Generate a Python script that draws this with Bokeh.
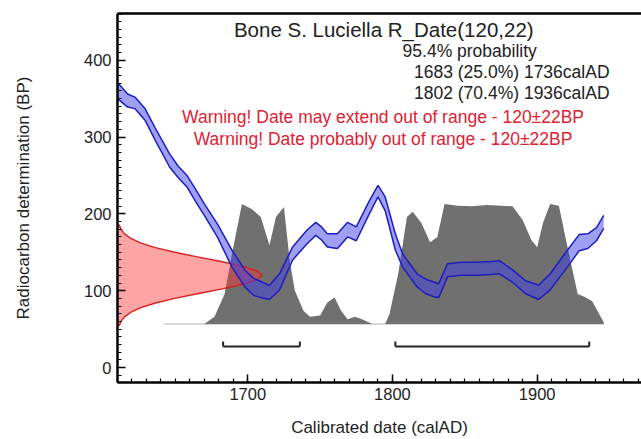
from bokeh.plotting import figure
from bokeh.models import (Range1d, LinearAxis, SingleIntervalTicker, FixedTicker, Label)
from bokeh.embed import file_html
from bokeh.resources import INLINE

# ---------------- data ----------------
# calibration curve (calAD, upper / lower BP of the 1-sigma band)
curve_year = [1610, 1617, 1622, 1629, 1636, 1646, 1652, 1658, 1664, 1670,
              1679, 1689, 1698, 1704, 1709, 1715, 1722, 1731, 1741, 1747,
              1751, 1755, 1762, 1769, 1775, 1784, 1790, 1795, 1802, 1807,
              1817, 1823, 1829, 1832, 1838, 1848, 1859, 1868, 1874, 1883,
              1892, 1901, 1909, 1921, 1929, 1935, 1941, 1946]
curve_upper = [371, 356, 352, 337, 312, 278, 262, 250, 232, 213,
               187, 153, 127, 116, 112, 107, 122, 157, 179, 189,
               183, 174, 174, 189, 183, 217, 237, 222, 174, 148,
               122, 115, 111, 109, 135, 137, 137, 138, 139, 127,
               113, 107, 122, 153, 173, 174, 182, 198]
curve_lower = [350, 339, 337, 322, 296, 261, 247, 235, 216, 198,
               170, 131, 105, 94, 91, 88.5, 101, 140, 161, 172,
               166, 157, 155, 170, 165, 200, 222, 204, 153, 131,
               105, 96, 92, 91, 118, 120, 120, 121, 122, 111,
               96, 88.5, 101, 131, 152, 155, 165, 181]

# calibrated probability distribution (relative)
cal_year = [1642, 1666, 1670, 1677, 1684, 1690, 1696, 1703, 1709, 1715,
            1719.5, 1725, 1729, 1732.5, 1738.5, 1743, 1750, 1755, 1760, 1764.5,
            1769, 1774, 1779, 1786, 1795, 1798, 1804, 1810, 1814, 1820,
            1826, 1831, 1836, 1845, 1855, 1865, 1875, 1883, 1890, 1896,
            1900, 1904, 1909, 1915, 1921, 1928, 1933, 1938, 1946]
cal_prob = [0, 0, 0.0, 0.06, 0.25, 0.64, 1.0, 0.955, 0.89, 0.655,
            0.89, 0.975, 0.53, 0.28, 0.11, 0.06, 0.07, 0.18, 0.22, 0.11,
            0.04, 0.06, 0.04, 0, 0, 0.085, 0.42, 0.89, 0.935, 0.84,
            0.68, 0.725, 1.0, 0.985, 0.98, 0.99, 0.985, 0.98, 0.865, 0.70,
            0.64, 0.84, 1.0, 0.985, 0.64, 0.25, 0.225, 0.19, 0.015]

# radiocarbon determination 120 +/- 22 BP (relative density)
c14_bp = [54, 60, 66, 72, 78, 84, 90, 96, 102, 108, 114, 120,
          126, 132, 138, 144, 150, 156, 162, 168, 174, 180, 186]
c14_dens = [0.011, 0.024, 0.049, 0.093, 0.162, 0.262, 0.395, 0.552, 0.716, 0.862, 0.963, 1.0,
            0.963, 0.862, 0.716, 0.552, 0.395, 0.262, 0.162, 0.093, 0.049, 0.024, 0.011]

# 95.4% ranges
range_from = [1683, 1802]
range_to = [1736, 1936]

title_text = "Bone S. Luciella R_Date(120,22)"
prob_text = "95.4% probability"
range_texts = ["1683 (25.0%) 1736calAD", "1802 (70.4%) 1936calAD"]
warn_texts = ["Warning! Date may extend out of range - 120\u00b122BP",
              "Warning! Date probably out of range - 120\u00b122BP"]

# ---------------- layout constants ----------------
X0, X1 = 1610, 1972.1
Y0, Y1 = -19.5, 460.8
DIST_BASE, DIST_H = 56.6, 156.4
C14_W = 100.0
BR_Y, BR_TICK = 27.5, 34

FONT = "Liberation Sans"

p = figure(width=641, height=439, output_backend="svg", toolbar_location=None,
           x_range=Range1d(X0, X1), y_range=Range1d(Y0, Y1),
           min_border_left=117, min_border_right=0, min_border_top=13,
           min_border_bottom=56, x_axis_type=None, y_axis_type=None)
p.outline_line_color = None
p.background_fill_color = "white"
p.grid.visible = False

# gray calibrated distribution
p.line([cal_year[0], cal_year[-1]], [DIST_BASE, DIST_BASE], line_color="#b0b0b0", line_width=1)
p.varea(x=cal_year, y1=[DIST_BASE] * len(cal_year),
        y2=[DIST_BASE + v * DIST_H for v in cal_prob], fill_color="#707070")

# red radiocarbon distribution
red_x = [X0 + d * C14_W for d in c14_dens]
p.harea(y=c14_bp, x1=[X0] * len(c14_bp), x2=red_x, fill_color="#ff3535", fill_alpha=0.45)
p.line(red_x, c14_bp, line_color="#d42020", line_width=1.4)

# blue calibration curve
p.varea(x=curve_year, y1=curve_lower, y2=curve_upper, fill_color="#4040e8", fill_alpha=0.5)
p.line(curve_year, curve_upper, line_color="#1e1ec0", line_width=1.5)
p.line(curve_year, curve_lower, line_color="#1e1ec0", line_width=1.5)

# range brackets
p.segment(x0=range_from, y0=[BR_Y] * 2, x1=range_to, y1=[BR_Y] * 2, line_color="#222222", line_width=2)
p.segment(x0=range_from + range_to, y0=[BR_Y] * 4, x1=range_from + range_to, y1=[BR_TICK] * 4,
          line_color="#222222", line_width=2)

# axes
def style_axis(ax):
    ax.axis_line_width = 2.5
    ax.axis_line_color = "black"
    ax.major_tick_in = 8
    ax.major_tick_out = 0
    ax.minor_tick_in = 4
    ax.minor_tick_out = 0
    ax.major_tick_line_width = 1.5
    ax.minor_tick_line_width = 1.2
    ax.major_tick_line_color = "black"
    ax.minor_tick_line_color = "black"
    ax.major_label_text_font = FONT
    ax.major_label_text_font_size = "16.5px"
    ax.major_label_text_color = "#222222"
    ax.axis_label_text_font = FONT
    ax.axis_label_text_font_size = "17px"
    ax.axis_label_text_font_style = "normal"
    ax.axis_label_text_color = "#222222"

xax = LinearAxis(ticker=SingleIntervalTicker(interval=100, num_minor_ticks=10),
                 axis_label="Calibrated date (calAD)")
style_axis(xax)
xax.major_label_standoff = 5
xax.axis_label_standoff = 15
p.add_layout(xax, "below")

yax = LinearAxis(ticker=SingleIntervalTicker(interval=100, num_minor_ticks=10),
                 axis_label="Radiocarbon determination (BP)")
style_axis(yax)
yax.major_label_standoff = 6
yax.axis_label_standoff = 48
p.add_layout(yax, "left")

top = LinearAxis(ticker=FixedTicker(ticks=[]), axis_line_width=2.5, axis_line_color="black",
                 major_tick_out=0, major_tick_in=0, minor_tick_out=0, minor_tick_in=0,
                 major_label_text_font_size="0px")
p.add_layout(top, "above")

# texts
def add_label(x, y, text, size, color="#222222", align="center"):
    p.add_layout(Label(x=x, y=y, text=text, text_font=FONT, text_font_size=size,
                       text_color=color, text_align=align, text_baseline="middle"))

add_label(1794, 439.6, title_text, "20.5px")
add_label(1807, 412.3, prob_text, "17.5px", align="left")
add_label(1950, 384.4, range_texts[0], "17.5px", align="right")
add_label(1950, 357.5, range_texts[1], "17.5px", align="right")
add_label(1793.5, 325.7, warn_texts[0], "17.5px", color="#dd2233")
add_label(1793.5, 297.7, warn_texts[1], "17.5px", color="#dd2233")

open("out.html", "w").write(file_html(p, INLINE))
